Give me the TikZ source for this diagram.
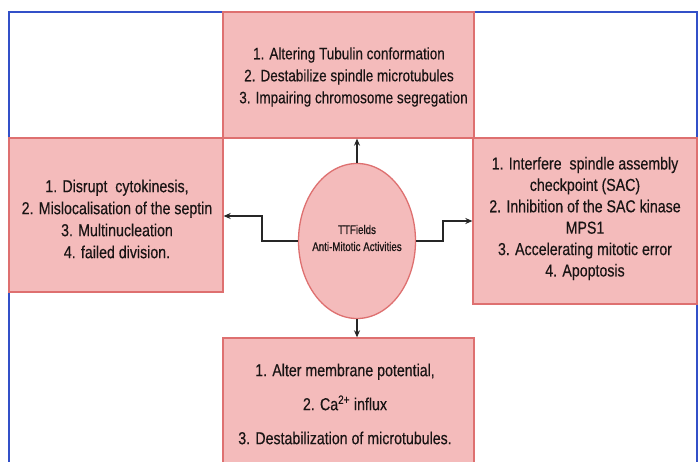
\documentclass[tikz,border=0pt]{standalone}
\usepackage{fontspec}
\setmainfont[FakeStretch=0.82,FakeBold=0.35]{Liberation Sans}
\newfontfamily\ellfont[FakeStretch=0.78,FakeBold=0.7]{Liberation Sans}
\usetikzlibrary{arrows.meta,shapes.geometric}
\definecolor{boxfill}{RGB}{244,187,187}
\definecolor{boxline}{RGB}{222,112,112}
\definecolor{framec}{RGB}{50,80,200}
\definecolor{txt}{RGB}{25,20,20}
\tikzset{
  pbox/.style={draw=boxline, fill=boxfill, line width=1.3pt, inner sep=0pt},
  ptext/.style={inner sep=0pt, align=center, text=txt, font=\fontsize{17.3}{22}\selectfont},
  conn/.style={draw=black!85, line width=1.3pt, -{Stealth[length=7pt,width=6pt]}},
}
\begin{document}
\begin{tikzpicture}[x=1pt,y=-1pt]
\useasboundingbox (0,0) rectangle (699,462);
\clip (0,0) rectangle (699,462);
\fill[white] (0,0) rectangle (699,462);
\draw[framec, line width=1.1pt] (9,480) -- (9,12) -- (697,12) -- (697,480);
\node[pbox, minimum width=251pt, minimum height=126pt] (top) at (348.5,75) {};
\node[pbox, minimum width=214pt, minimum height=154pt] (left) at (116,215) {};
\node[pbox, minimum width=224pt, minimum height=166pt] (right) at (585,221) {};
\node[pbox, minimum width=251pt, minimum height=140pt] (bottom) at (348.5,408) {};
\node[ptext, font=\fontsize{16.5}{22}\selectfont] (toptxt) at (349,77)
  {1. Altering Tubulin conformation\\2. Destabilize spindle microtubules\\\hspace*{9pt}3. Impairing chromosome segregation};
\node[ptext] (lefttxt) at (117,219)
  {1. Disrupt\ \ cytokinesis,\\2. Mislocalisation of the septin\\3. Multinucleation\hspace*{12pt}\\4. failed division.};
\node[ptext, font=\fontsize{17.3}{21.4}\selectfont] (righttxt) at (585,218.5)
  {1. Interfere\ \ spindle assembly\\checkpoint (SAC)\hspace*{8pt}\\2. Inhibition of the SAC kinase\\MPS1\hspace*{6pt}\\3. Accelerating mitotic error\\4. Apoptosis};
\node[ptext, font=\fontsize{17.3}{34}\selectfont] (bottomtxt) at (345,404)
  {1. Alter membrane potential,\\2. Ca\textsuperscript{2+} influx\\3. Destabilization of microtubules.};
\node[ellipse, draw=boxline, fill=boxfill, line width=1.3pt, minimum width=117pt, minimum height=155pt,
  inner sep=0pt] (ell) at (357,241) {};
\node[inner sep=0pt, align=center, text=txt, font=\ellfont\fontsize{12.5}{17}\selectfont] (elltxt) at (357,238)
  {TTFields\\Anti-Mitotic Activities};
\coordinate (lk) at (262,216);
\coordinate (rk) at (443,221);
\draw[conn] (ell.north) -- (ell.north |- top.south);
\draw[conn] (ell.south) -- (ell.south |- bottom.north);
\draw[conn] (ell.west) -- (ell.west -| lk) -- (lk) -- (lk -| left.east);
\draw[conn] (ell.east) -- (ell.east -| rk) -- (rk) -- (rk -| right.west);
\end{tikzpicture}
\end{document}
